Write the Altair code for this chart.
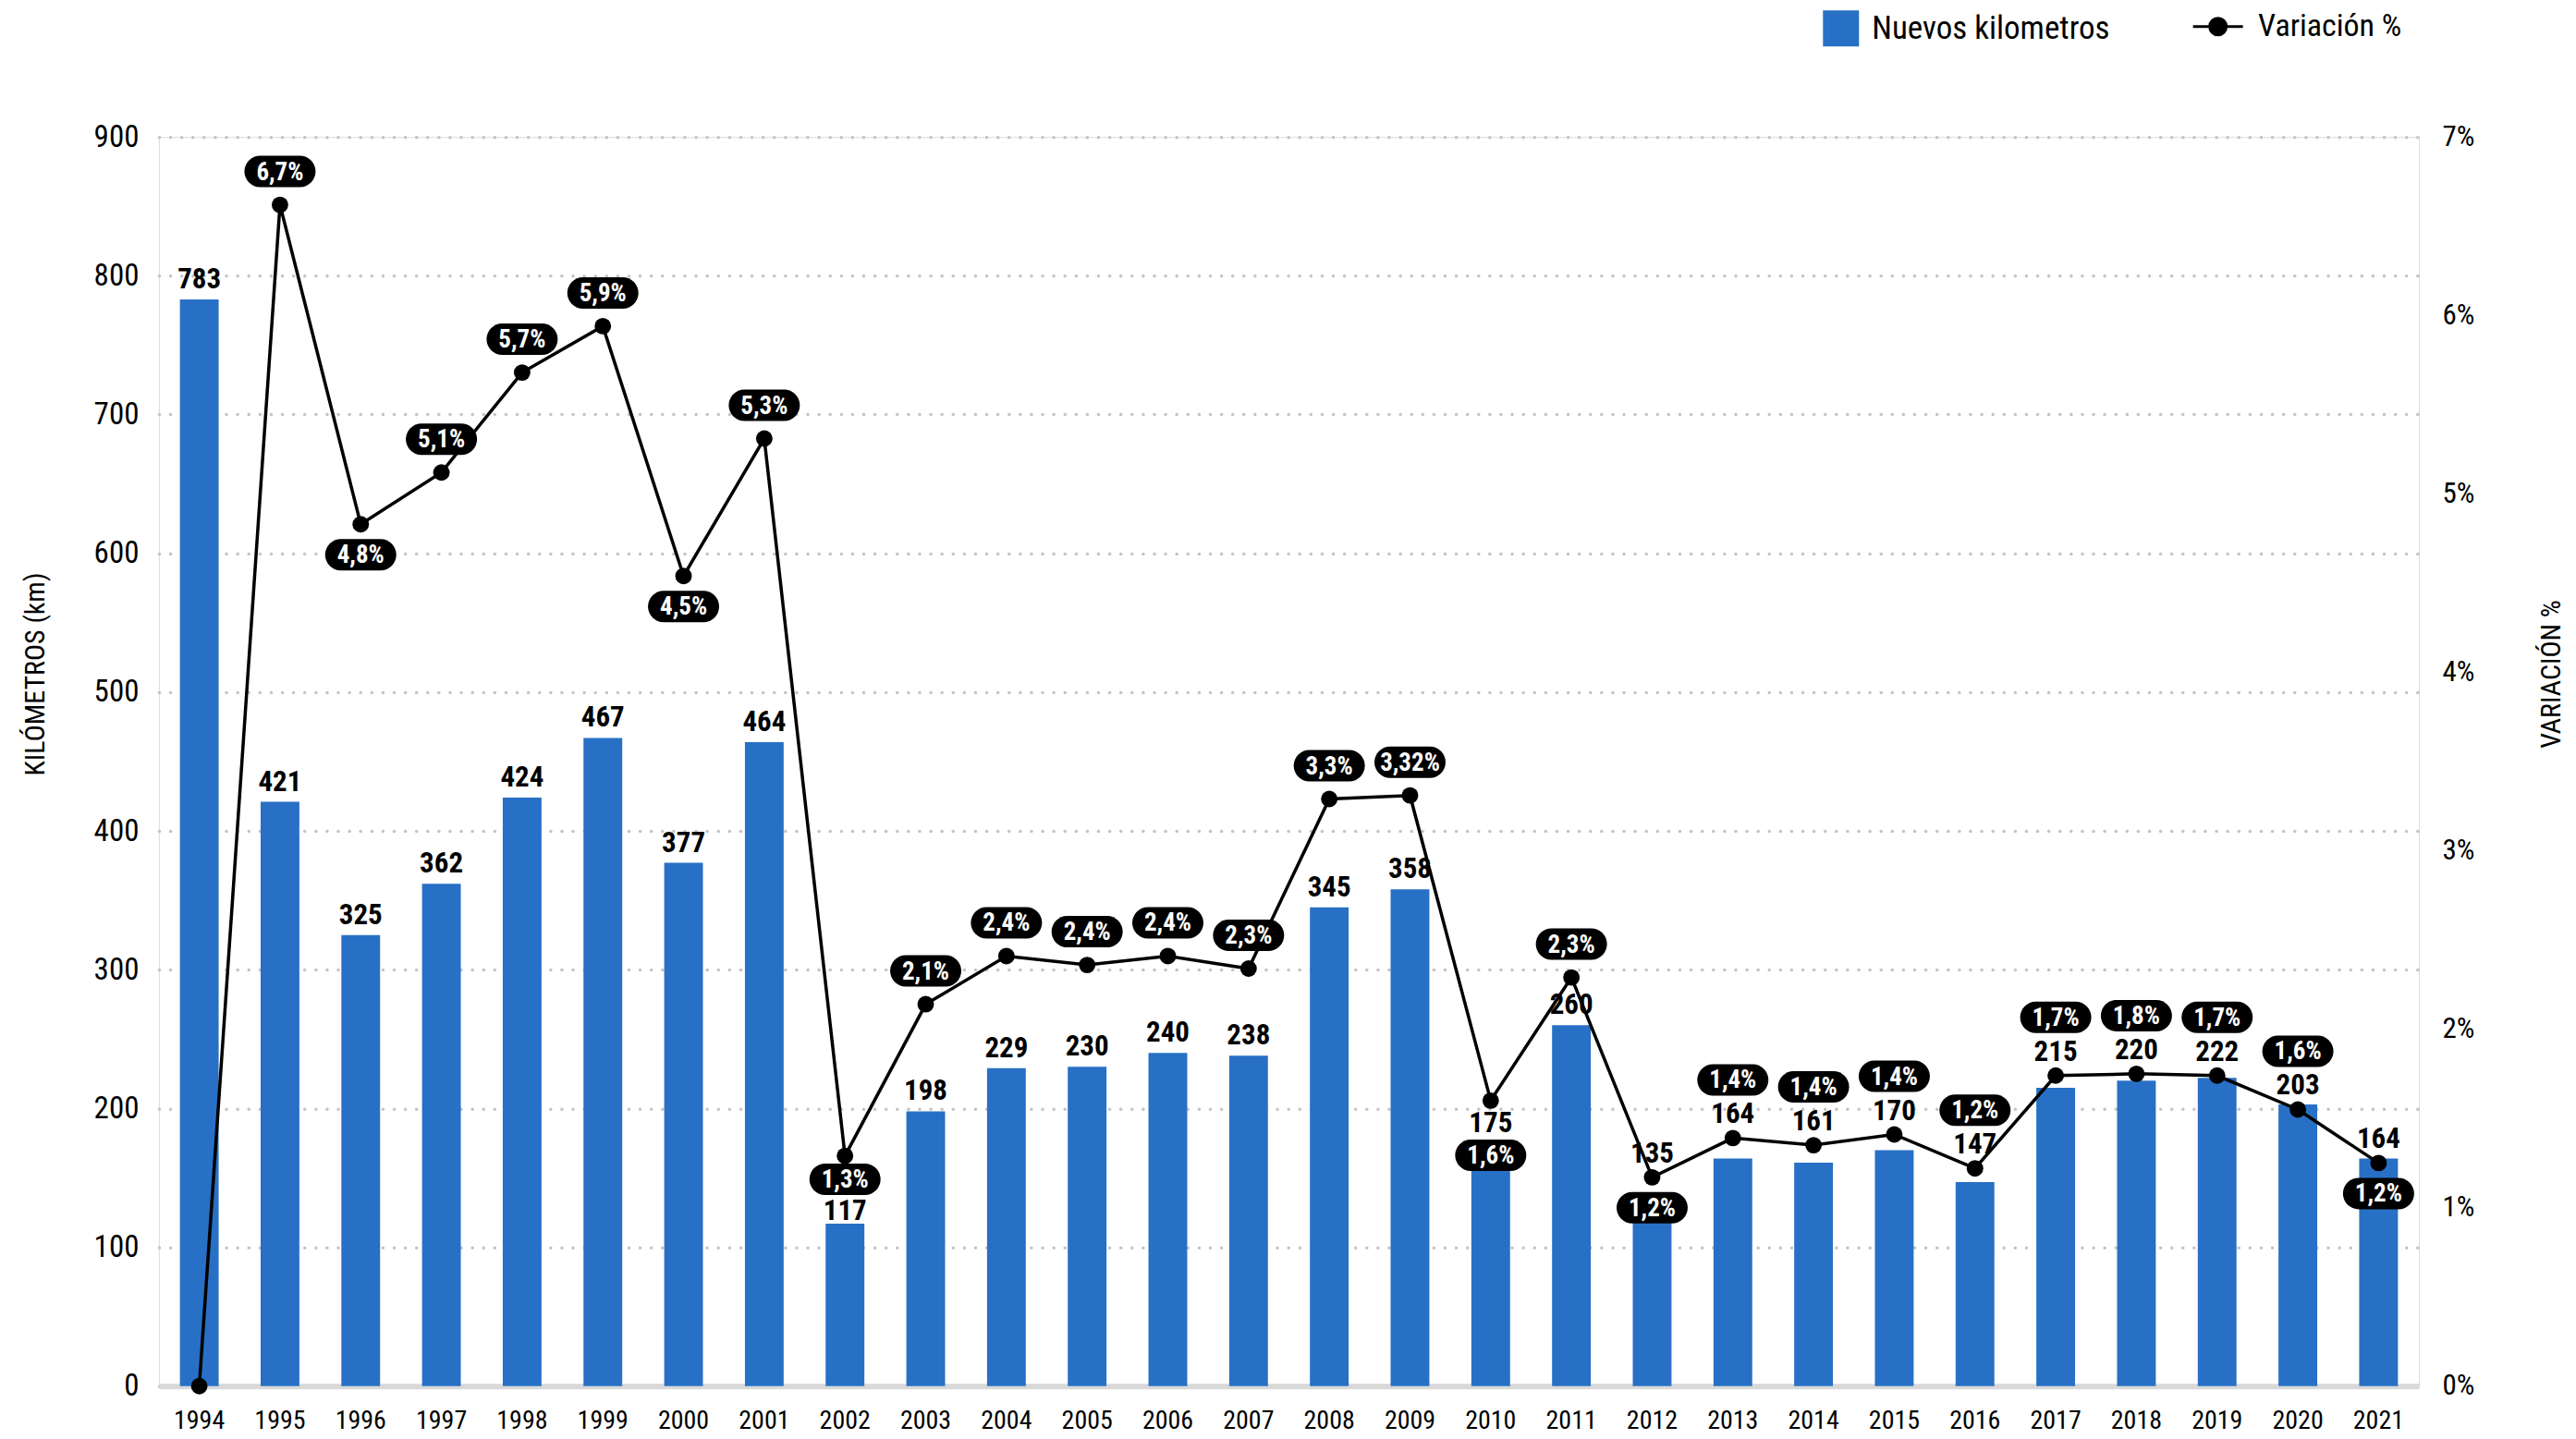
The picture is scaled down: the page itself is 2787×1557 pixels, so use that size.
import altair as alt
import pandas as pd

years = list(range(1994, 2022))
km = [783, 421, 325, 362, 424, 467, 377, 464, 117, 198, 229, 230, 240, 238,
      345, 358, 175, 260, 135, 164, 161, 170, 147, 215, 220, 222, 203, 164]
pct = [0.0, 6.62, 4.83, 5.12, 5.68, 5.94, 4.54, 5.31, 1.29, 2.14, 2.41, 2.36, 2.41, 2.34,
       3.29, 3.31, 1.60, 2.29, 1.17, 1.39, 1.35, 1.41, 1.22, 1.74, 1.75, 1.74, 1.55, 1.25]
pct_labels = ["", "6,7%", "4,8%", "5,1%", "5,7%", "5,9%", "4,5%", "5,3%", "1,3%", "2,1%",
              "2,4%", "2,4%", "2,4%", "2,3%", "3,3%", "3,32%", "1,6%", "2,3%", "1,2%",
              "1,4%", "1,4%", "1,4%", "1,2%", "1,7%", "1,8%", "1,7%", "1,6%", "1,2%"]
# side of the percentage pill relative to its point (style choice)
pill_side = ["none", "up", "down", "up", "up", "up", "down", "up", "down", "up",
             "up", "up", "up", "up", "up", "up", "under_label", "up", "down",
             "up", "up", "up", "up", "up", "up", "up", "up", "down"]

W, H = 2446, 1352
KM_MAX, PCT_MAX = 900, 7
FONT = "Roboto Condensed, Liberation Sans Narrow, Arial Narrow, DejaVu Sans Condensed, Roboto, sans-serif"
BLUE = "#2870c5"

ppk = H / KM_MAX  # pixels per km on the left scale

lab_km, pill_km = [], []
for k, p, side in zip(km, pct, pill_side):
    bar_px = k * ppk
    pt_px = p * H / PCT_MAX
    d = pt_px - bar_px
    shifted = -9 <= d <= 45
    base = pt_px + 16 if shifted else bar_px + 12
    if side == "up":
        pc = base + 47 if shifted else pt_px + 36
    elif side == "down":
        pc = pt_px - 33
        if not shifted and base + 23 > pc - 17 - 2:
            base = bar_px + 4
            pc = base + 44
    elif side == "under_label":
        pc = base - 25
    else:
        pc = 0
    lab_km.append(base / ppk)
    pill_km.append(pc / ppk)

df = pd.DataFrame({
    "year": [str(y) for y in years],
    "km": km,
    "pct": pct,
    "plabel": pct_labels,
    "lab_km": lab_km,
    "pill_km": pill_km,
    "s1": "Nuevos kilometros",
    "s2": "Variación %",
})

x = alt.X("year:O", scale=alt.Scale(paddingInner=0.52, paddingOuter=0.26),
          axis=alt.Axis(title=None, labelAngle=0, labelFontSize=28, labelFont=FONT,
                        labelColor="#000", ticks=False, domainColor="#d9d9d9",
                        domainWidth=6, labelPadding=24))

yleft = alt.Y("km:Q", scale=alt.Scale(domain=[0, KM_MAX], nice=False),
              axis=alt.Axis(title="KILÓMETROS (km)", values=list(range(0, 1000, 100)),
                            grid=True, gridDash=[0.1, 12], gridCap="round", gridWidth=3.5,
                            gridColor="#c4c4c4", ticks=False, domain=False,
                            labelFontSize=33, labelFont=FONT, labelColor="#000",
                            labelPadding=22, titleFont=FONT, titleFontSize=30,
                            titleFontWeight="normal", titleColor="#000",
                            titleAngle=270, titleX=-133, titleY=581,
                            titleAlign="center", titleBaseline="middle"))

bars = alt.Chart(df).mark_bar(color=BLUE).encode(
    x=x, y=yleft,
    color=alt.Color("s1:N", scale=alt.Scale(domain=["Nuevos kilometros"], range=[BLUE]),
                    legend=alt.Legend(title=None, orient="none", legendX=1801, legendY=-137,
                                      symbolType="square", symbolSize=1521,
                                      symbolStrokeWidth=0, labelFontSize=35, labelFont=FONT,
                                      labelColor="#000", labelOffset=14, labelLimit=1000)))

bar_labels = alt.Chart(df).mark_text(baseline="alphabetic", fontWeight="bold", fontSize=31,
                                     font=FONT, color="#000").encode(
    x=x, y=alt.Y("lab_km:Q"), text="km:Q")

left = alt.layer(bars, bar_labels)

# legend symbol: line with a dot, drawn wider than its nominal 40px box
LEGSYM = "M -1.35 0 L 1.35 0 M -0.45 0 A 0.45 0.45 0 1 1 0.45 0 A 0.45 0.45 0 1 1 -0.45 0 Z"
yright = alt.Y("pct:Q", scale=alt.Scale(domain=[0, PCT_MAX], nice=False),
               axis=alt.Axis(orient="right", title="VARIACIÓN %", values=list(range(0, 8)),
                             labelExpr="datum.value + '%'", grid=False, ticks=False,
                             domain=False, labelFontSize=31, labelFont=FONT,
                             labelColor="#000", labelPadding=25, titleFont=FONT,
                             titleFontSize=30, titleFontWeight="normal", titleColor="#000",
                             titleAngle=270, titleX=143, titleY=581, titleAlign="center",
                             titleBaseline="middle"))

line = alt.Chart(df).mark_line(strokeWidth=3.5, color="#000").encode(
    x=x, y=yright,
    stroke=alt.Stroke("s2:N", scale=alt.Scale(domain=["Variación %"], range=["#000"]),
                      legend=alt.Legend(title=None, orient="none", legendX=2207, legendY=-141,
                                        symbolType=LEGSYM, symbolSize=1600,
                                        symbolStrokeWidth=3, symbolFillColor="#000",
                                        labelFontSize=34, labelFont=FONT, labelColor="#000",
                                        labelOffset=22, labelLimit=1000)))
points = alt.Chart(df).mark_circle(size=320, color="#000", opacity=1).encode(x=x, y=yright)
right = alt.layer(line, points)

PILL = ("M -0.5584 -0.4416 L 0.5584 -0.4416 A 0.4416 0.4416 0 0 1 0.5584 0.4416 "
        "L -0.5584 0.4416 A 0.4416 0.4416 0 0 1 -0.5584 -0.4416 Z")
ypill = alt.Y("pill_km:Q", scale=alt.Scale(domain=[0, KM_MAX], nice=False), axis=None)
pills = alt.Chart(df).transform_filter("datum.plabel != ''").mark_point(
    shape=PILL, size=5929, filled=True, color="#000", opacity=1, strokeWidth=0).encode(
    x=x, y=ypill)
pill_text = alt.Chart(df).transform_filter("datum.plabel != ''").mark_text(
    color="#fff", fontWeight="bold", fontSize=27, font=FONT, baseline="middle", dy=1).encode(
    x=x, y=ypill, text="plabel:N")
top = alt.layer(pills, pill_text)

chart = alt.layer(left, right, top).resolve_scale(y="independent").properties(
    width=W, height=H,
    padding={"left": 164, "top": 140, "right": 162, "bottom": 56},
    autosize=alt.AutoSizeParams(type="none"),
).configure_view(stroke=None).configure(font=FONT)

chart.save("out.html", embed_options={"renderer": "svg", "actions": False})
